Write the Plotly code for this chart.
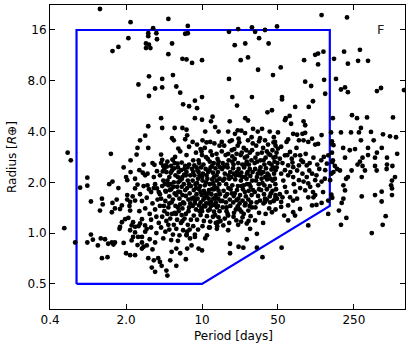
import math
import plotly.graph_objects as go

# ---- data (period in days, radius in Earth radii) ----
upper_points = [
    (1.15, 21.3), (2.2, 17.8), (4.9, 18.6), (3.55, 16.4), (3.2, 15.3), (3.8, 15.3), (3.2, 14.7),
    (3.85, 14.1), (2.1, 14.3), (7.4, 16.9), (7.0, 15.2), (7.4, 15.3), (5.3, 13.3), (4.9, 11.5),
    (3.05, 13.3), (3.25, 13.1), (3.05, 12.5), (3.35, 12.5), (1.5, 12.0), (1.7, 12.7), (6.6, 10.8),
    (7.2, 10.7), (8.1, 10.2), (10.0, 10.6), (3.25, 8.5), (4.3, 8.2), (5.4, 8.65), (2.6, 7.6),
    (3.7, 7.2), (4.3, 7.3), (5.8, 7.4), (3.25, 6.5), (6.3, 6.8), (6.7, 5.8), (7.6, 5.65), (8.6, 6.1),
    (10.0, 6.4), (9.0, 5.5), (4.2, 4.8), (8.6, 4.8), (10.0, 4.7), (3.2, 4.3), (4.3, 4.2), (5.6, 4.2),
    (6.6, 4.2),
    (126, 19.6), (216, 19.0), (28.8, 16.6), (49, 16.8), (21.5, 16.2), (17.7, 15.6), (30.8, 15.6),
    (38, 16.0), (33.5, 14.3), (41, 13.3), (20, 13.0), (25, 13.3), (117, 11.6), (131, 11.9),
    (110, 11.4), (164, 10.8), (203, 11.9), (284, 12.2), (273, 10.5), (337, 10.5), (220, 10.1),
    (22.7, 10.6), (26.5, 11.0), (53, 9.6), (87, 10.6), (117, 10.0), (32.8, 9.3), (45, 8.65),
    (17.7, 8.2), (89, 7.9), (101, 7.45), (133, 8.1), (136, 6.7), (171, 8.2), (190, 7.1), (220, 6.85),
    (207, 7.3), (407, 6.95), (444, 7.25), (722, 7.05), (54.5, 6.4), (54.5, 6.2), (28.8, 6.4),
    (19, 6.4), (105, 6.05), (96, 5.6), (72, 5.6), (44, 5.35), (40, 5.2), (21, 5.7), (240, 5.0),
    (267, 4.8), (330, 4.85), (572, 4.85), (160, 4.8), (59, 4.8), (64, 4.95), (25, 4.8), (26.5, 4.65),
    (18, 4.6), (23, 4.05), (29.5, 4.15), (35.7, 4.15), (32.6, 4.0), (42, 4.0), (50, 3.95),
]

right_points = [
    (154, 3.95), (157, 3.5), (190, 3.95), (235, 3.95), (278, 3.95), (359, 3.98), (463, 3.85),
    (537, 3.75), (610, 3.7), (625, 2.95), (451, 3.2), (504, 2.8), (407, 3.0), (337, 3.2), (229, 3.1),
    (199, 3.2), (207, 2.8), (157, 3.0), (160, 2.7), (284, 2.65), (337, 2.9), (504, 2.55),
    (270, 2.55), (300, 2.5), (316, 2.35), (391, 2.5), (405, 2.35), (500, 2.4), (565, 2.5),
    (597, 2.15), (560, 2.05), (550, 1.92), (560, 1.84), (295, 2.15), (238, 2.35), (220, 2.15),
    (212, 2.1), (200, 1.92), (207, 1.79), (295, 1.65), (391, 1.68), (450, 1.76), (560, 1.68),
    (167, 2.5), (175, 2.4), (162, 2.3), (186, 2.35), (290, 4.2), (380, 3.55), (290, 3.55),
    (256, 3.15), (391, 2.8), (300, 2.8), (200, 1.6), (193, 1.51), (182, 1.36), (213, 1.23),
    (190, 1.12), (450, 1.54), (365, 1.0), (460, 1.12), (490, 1.26),
]

mid_points = [
    (58, 4.67), (66, 4.45), (86, 4.6), (89, 4.36), (69, 3.88), (75, 3.83), (84, 3.88), (89, 3.93),
    (78, 3.55), (86, 3.55), (95, 3.47), (103, 3.63), (110, 3.35), (117, 3.38), (126, 3.81),
    (62, 3.59), (60, 3.47), (53.5, 3.25), (50, 3.17), (47.5, 2.83), (52, 2.76), (58, 2.89),
    (64.6, 3.03), (72, 2.89), (67, 2.76), (80, 2.89), (85, 2.64), (92, 2.52), (78, 2.52), (69, 2.46),
    (62, 2.52), (58, 2.36), (53.5, 2.25), (47.5, 2.36), (62, 2.2), (69, 2.15), (78, 2.06), (86, 2.02),
    (92, 2.15), (103, 2.25), (113, 2.2), (110, 2.06), (117, 1.92), (99, 1.88), (89, 1.79), (80, 1.85),
    (72, 1.76), (58, 1.88), (52, 1.7), (64.6, 1.63), (110, 1.68), (126, 2.02), (136, 2.36),
    (141, 2.58), (132, 2.83), (145, 2.89), (162, 3.32), (157, 3.38), (158, 2.64), (155, 2.25),
    (151, 2.06), (155, 1.69), (158, 1.62), (47.5, 1.63), (55, 1.63), (53.5, 1.53), (53.5, 1.43),
    (62, 1.46), (69, 1.56), (75, 1.6), (69, 1.33), (71.8, 1.27), (57, 1.27), (62, 1.19), (79.8, 1.39),
    (95, 1.63), (103, 1.46), (113, 1.47), (126, 1.51), (145, 1.56), (106, 1.63), (145, 1.30),
    (95, 1.11), (54, 0.82),
    (55, 2.6), (61, 2.9), (68, 2.62), (74, 3.2), (82, 2.7), (90, 2.95), (98, 2.6), (106, 2.8),
    (115, 2.55), (125, 2.7), (56, 2.05), (65, 2.3), (75, 2.35), (84, 2.25), (97, 2.35), (120, 2.4),
    (135, 2.1), (60, 1.75), (70, 1.95), (95, 1.97), (105, 1.75), (130, 1.75),
]

lower_points = [
    (0.95, 1.54), (1.2, 1.6), (1.22, 1.48), (1.15, 1.36), (1.5, 1.51), (1.58, 1.4), (1.76, 1.39),
    (1.83, 1.46), (1.48, 1.33), (2.05, 1.58), (2.18, 1.53), (2.42, 1.56), (2.18, 1.36), (1.83, 1.16),
    (1.96, 1.21), (2.1, 1.23), (1.76, 1.09), (1.74, 1.06), (2.32, 1.16), (2.42, 1.09), (2.25, 1.11),
    (2.69, 1.14), (2.8, 1.21), (2.99, 1.11), (3.1, 1.06), (2.42, 1.01), (2.18, 1.04), (2.32, 0.95),
    (2.58, 0.95), (2.25, 0.905), (2.8, 0.88), (3.1, 0.845), (0.95, 0.98), (0.99, 0.915), (1.17, 0.93),
    (1.28, 0.92), (1.37, 0.865), (1.48, 0.88), (1.53, 0.855), (1.58, 0.88), (1.9, 0.875), (1.1, 0.845),
    (0.88, 0.88), (1.2, 0.71), (1.35, 0.72), (2.0, 0.76), (2.18, 0.74), (2.42, 0.74), (2.8, 0.81),
    (2.9, 0.83), (3.2, 0.71), (3.6, 0.69), (3.95, 0.71), (4.1, 0.675), (3.45, 0.625), (3.7, 0.59),
    (4.7, 0.6), (4.8, 0.56), (4.25, 0.64), (5.1, 0.69), (5.8, 0.64), (5.25, 0.775), (5.8, 0.81),
    (6.3, 0.76), (7.1, 0.7), (7.3, 0.81), (8.0, 0.845), (9.3, 0.81), (10.0, 0.79), (7.75, 0.93),
    (8.6, 0.95), (10.7, 0.93), (11.1, 0.97), (7.2, 0.97), (18.1, 0.865), (18.1, 0.76), (21.7, 0.83),
    (24, 0.82), (25.8, 0.92), (32, 0.82), (36, 0.72), (17.4, 1.04), (20.7, 1.19), (22.9, 1.17),
    (26.8, 1.18), (30.8, 1.19), (27.7, 1.06), (32, 0.99), (44, 1.33), (46, 1.56), (38, 1.53),
    (48, 1.6), (14, 1.16), (15.7, 1.11), (13.7, 1.06), (11.6, 1.08), (17.4, 1.27),
    (0.54, 1.07), (0.68, 0.88), (0.755, 1.86), (0.88, 2.13), (0.88, 1.91), (1.64, 1.58),
    (2.42, 2.1), (0.58, 3.0), (0.62, 2.7), (1.45, 2.95), (2.2, 2.7),
]

left_mid_points = [
    (2.69, 3.55), (3.0, 3.78), (5.3, 3.65), (5.5, 3.55), (7.0, 3.6), (7.3, 3.8), (2.55, 3.2),
    (3.2, 3.2), (2.5, 2.92), (6.05, 3.17), (6.3, 3.05), (5.65, 2.83), (5.35, 2.73), (4.2, 2.92),
    (4.3, 2.72), (4.65, 2.52), (3.65, 2.54), (3.85, 2.33), (2.65, 2.36), (2.85, 2.28), (3.15, 2.25),
    (2.0, 2.15), (2.05, 2.06), (1.5, 2.02), (1.4, 1.95), (1.7, 1.85), (2.05, 1.68), (2.55, 1.94),
    (3.15, 1.92), (2.42, 1.84), (2.69, 1.7), (3.25, 1.82), (3.85, 1.84), (4.1, 1.7), (4.65, 1.76),
    (4.9, 1.92), (6.05, 2.0), (6.5, 2.09), (7.1, 2.2), (7.6, 3.25), (7.2, 2.9),
    (12.1, 4.6), (12.5, 4.9), (7.2, 4.1), (10.7, 4.0), (13.2, 4.25), (14.2, 4.0), (17.4, 4.0),
    (20.1, 3.88), (21.3, 4.07), (24.9, 3.92), (8.2, 3.47), (10.1, 3.55), (11.9, 3.47), (15.2, 3.47),
    (18.8, 3.55), (21.7, 3.63), (28.6, 3.7), (34.2, 3.65), (38, 3.55), (45.8, 3.7), (47, 3.47),
]

core_points = [
    # P 4-8, R 1.5-2.7
    (4.2, 2.6), (4.5, 2.4), (4.8, 2.65), (5.2, 2.5), (5.6, 2.6), (6.0, 2.45), (6.5, 2.62), (7.0, 2.5),
    (7.6, 2.55), (4.1, 2.2), (4.4, 2.05), (4.7, 2.3), (5.0, 2.15), (5.3, 2.35), (5.7, 2.2), (6.1, 2.3),
    (6.6, 2.15), (7.2, 2.3), (7.8, 2.2), (4.3, 1.9), (4.6, 1.78), (4.9, 1.95), (5.2, 1.82), (5.5, 2.0),
    (5.9, 1.88), (6.3, 1.75), (6.8, 1.95), (7.3, 1.85), (7.7, 1.72), (4.2, 1.6), (4.6, 1.55),
    (5.0, 1.65), (5.4, 1.58), (5.8, 1.68), (6.2, 1.6), (6.7, 1.52), (7.1, 1.66), (7.5, 1.58),
    (4.4, 2.5), (5.4, 2.72), (6.3, 2.05), (6.9, 2.4), (7.4, 2.05), (4.0, 1.75), (5.1, 1.95),
    (5.6, 1.72), (6.5, 1.88), (7.9, 1.9), (4.8, 2.05), (6.0, 2.15),
    (4.35, 2.32), (4.75, 2.48), (5.15, 2.28), (5.55, 2.42), (5.95, 2.58), (6.4, 2.36), (6.85, 2.22),
    (7.35, 2.45), (4.55, 1.95), (5.05, 1.8), (5.45, 1.88), (6.05, 1.76), (6.6, 1.68), (7.0, 1.8),
    (7.6, 1.95), (4.45, 1.45), (5.25, 1.52), (6.0, 1.42), (6.85, 1.5), (7.8, 1.5),
    # P 4-8, R 0.9-1.5
    (4.1, 1.45), (4.5, 1.35), (4.9, 1.42), (5.3, 1.3), (5.7, 1.45), (6.1, 1.35), (6.6, 1.4), (7.1, 1.3),
    (7.6, 1.42), (4.3, 1.25), (4.7, 1.18), (5.1, 1.22), (5.5, 1.12), (5.9, 1.2), (6.4, 1.15),
    (6.9, 1.22), (7.4, 1.12), (7.9, 1.2), (4.2, 1.08), (4.6, 1.02), (5.0, 1.05), (5.4, 0.98),
    (5.8, 1.06), (6.2, 0.97), (6.7, 1.04), (7.2, 0.98), (7.7, 1.05), (4.4, 0.93), (5.2, 0.91),
    (6.0, 0.9), (6.5, 1.28), (5.6, 1.32), (4.8, 1.3), (7.5, 1.35), (4.0, 1.15), (6.3, 1.48), (5.0, 1.5),
    (4.9, 1.12), (5.75, 1.3), (6.6, 1.18), (7.3, 1.02),
    # P 1.5-4
    (2.9, 2.55), (3.5, 2.6), (3.0, 2.2), (3.6, 2.15), (2.9, 1.9), (3.4, 1.75), (3.7, 1.95), (2.8, 1.55),
    (3.1, 1.62), (3.5, 1.5), (3.9, 1.58), (2.65, 1.35), (3.0, 1.4), (3.3, 1.3), (3.7, 1.38), (3.4, 1.2),
    (3.8, 1.25), (3.6, 1.85), (1.9, 2.45), (2.2, 2.3), (2.3, 1.65), (2.15, 1.45),
    (2.6, 1.1), (3.0, 1.02), (3.4, 1.08), (3.8, 1.0), (2.8, 0.95), (3.3, 0.92), (3.7, 0.88),
    (3.5, 0.8), (2.55, 0.85),
    # P 8-15, R 2.5-3.5
    (8.3, 2.7), (8.8, 3.0), (9.4, 2.6), (10.0, 2.9), (10.6, 3.2), (11.3, 2.75), (12.0, 3.05),
    (12.8, 2.6), (13.6, 2.95), (14.5, 3.3), (9.0, 3.35), (11.0, 3.45), (13.0, 3.4), (8.5, 2.52),
    (10.3, 2.55), (12.4, 2.5), (14.2, 2.65), (9.7, 3.15), (11.8, 2.65), (14.0, 2.55),
    (9.3, 2.7), (10.9, 2.82), (12.4, 2.9), (13.9, 2.75), (9.9, 3.05),
    # P 8-15, R 1.5-2.5
    (8.1, 2.4), (8.5, 2.2), (8.9, 2.45), (9.3, 2.3), (9.8, 2.45), (10.2, 2.25), (10.8, 2.4),
    (11.4, 2.3), (12.0, 2.45), (12.6, 2.28), (13.3, 2.42), (14.0, 2.3), (14.7, 2.45), (8.2, 2.05),
    (8.7, 1.95), (9.2, 2.1), (9.6, 1.9), (10.1, 2.05), (10.6, 1.92), (11.2, 2.1), (11.8, 1.95),
    (12.4, 2.08), (13.0, 1.9), (13.7, 2.05), (14.4, 1.95), (8.4, 1.8), (8.9, 1.7), (9.4, 1.82),
    (9.9, 1.68), (10.4, 1.78), (11.0, 1.65), (11.6, 1.8), (12.2, 1.7), (12.9, 1.82), (13.5, 1.68),
    (14.2, 1.78), (8.0, 1.6), (8.6, 1.55), (9.1, 1.6), (9.7, 1.52), (10.3, 1.58), (10.9, 1.5),
    (11.5, 1.6), (12.1, 1.53), (12.7, 1.6), (13.4, 1.52), (14.1, 1.6), (14.8, 1.55), (9.5, 2.2),
    (11.0, 2.2), (12.9, 2.15), (8.4, 1.62), (10.7, 1.72), (13.8, 1.85), (9.0, 1.98),
    (8.3, 2.3), (9.1, 2.35), (10.0, 2.15), (10.9, 2.0), (11.7, 2.35), (12.7, 1.98), (13.6, 2.2),
    (14.5, 2.1), (8.8, 1.85), (9.7, 1.75), (10.6, 1.62), (11.4, 1.72), (12.4, 1.82), (13.2, 1.62),
    (14.6, 1.7),
    # P 8-15, R 1.0-1.5
    (8.2, 1.45), (8.8, 1.38), (9.4, 1.46), (10.0, 1.35), (10.7, 1.44), (11.4, 1.36), (12.1, 1.45),
    (12.9, 1.34), (13.7, 1.42), (14.5, 1.35), (8.4, 1.27), (9.0, 1.2), (9.7, 1.28), (10.4, 1.18),
    (11.1, 1.26), (11.9, 1.17), (12.6, 1.25), (13.4, 1.15), (14.2, 1.24), (8.3, 1.1), (9.2, 1.05),
    (10.1, 1.1), (11.8, 1.08), (13.8, 1.1), (8.6, 0.98), (14.8, 1.18), (9.9, 1.4), (11.5, 1.5),
    (13.2, 1.28), (8.6, 1.5), (9.5, 1.35), (10.4, 1.45), (11.8, 1.38), (12.9, 1.47), (14.0, 1.45),
    # P 15-30, R 2.5-3.6
    (15.5, 2.6), (16.5, 2.9), (17.6, 2.7), (18.8, 3.1), (20.0, 2.75), (21.3, 3.3), (22.7, 2.9),
    (24.2, 3.2), (25.8, 2.65), (27.5, 3.0), (29.3, 3.4), (16.0, 3.3), (18.0, 3.5), (19.5, 2.55),
    (23.5, 2.55), (26.5, 3.55), (28.5, 2.7), (17.0, 2.55), (20.8, 2.95), (24.8, 2.8), (15.2, 3.05),
    (22.0, 3.45), (27.0, 2.55), (19.0, 2.85), (25.5, 3.1),
    (17.4, 2.95), (19.8, 3.15), (23.2, 3.0), (26.0, 2.85), (28.9, 3.1), (19.0, 2.65), (21.5, 2.6),
    (25.0, 2.55),
    # P 15-30, R 1.5-2.5
    (15.3, 2.4), (16.2, 2.25), (17.2, 2.45), (18.2, 2.3), (19.3, 2.42), (20.5, 2.2), (21.7, 2.4),
    (23.0, 2.28), (24.4, 2.45), (25.9, 2.25), (27.5, 2.4), (29.2, 2.3), (15.6, 2.05), (16.7, 1.95),
    (17.8, 2.1), (19.0, 1.92), (20.2, 2.08), (21.4, 1.9), (22.8, 2.05), (24.2, 1.92), (25.7, 2.1),
    (27.3, 1.95), (29.0, 2.05), (15.8, 1.78), (17.0, 1.7), (18.3, 1.82), (19.6, 1.66), (21.0, 1.8),
    (22.4, 1.68), (23.8, 1.82), (25.3, 1.65), (26.9, 1.78), (28.6, 1.68), (15.4, 1.55), (16.6, 1.52),
    (18.0, 1.58), (19.4, 1.52), (20.8, 1.57), (22.2, 1.5), (23.6, 1.56), (25.1, 1.5), (26.7, 1.58),
    (28.3, 1.52), (16.0, 2.48), (18.6, 2.15), (21.0, 2.3), (23.4, 2.15), (26.3, 2.3), (17.5, 1.85),
    (20.0, 1.72), (24.8, 1.75), (28.0, 1.88),
    (16.1, 2.1), (17.5, 2.2), (19.7, 2.25), (22.0, 2.2), (24.8, 2.15), (27.8, 2.18), (16.4, 1.65),
    (18.8, 1.72), (21.6, 1.6), (23.1, 1.9), (26.0, 1.95), (29.5, 1.8),
    # P 15-30, R 1.1-1.5
    (15.5, 1.42), (16.8, 1.35), (18.2, 1.45), (19.7, 1.32), (21.3, 1.44), (23.0, 1.34), (24.8, 1.46),
    (26.7, 1.36), (28.8, 1.42), (16.2, 1.22), (17.8, 1.15), (19.5, 1.25), (21.5, 1.12), (23.6, 1.24),
    (25.8, 1.14), (28.0, 1.26), (20.5, 1.38), (24.2, 1.3), (17.2, 1.3), (16.8, 1.42), (22.2, 1.38),
    (27.4, 1.45),
    # P 30-50
    (30.5, 2.6), (32.5, 2.95), (34.5, 2.7), (36.5, 3.2), (38.5, 2.8), (40.5, 3.35), (42.5, 2.9),
    (44.5, 3.1), (46.5, 2.65), (48.5, 3.0), (31.5, 3.3), (33.5, 3.5), (37.5, 2.55), (41.5, 2.6),
    (45.5, 3.45), (35.5, 3.0), (39.5, 3.05), (43.5, 2.55), (47.5, 3.3), (31.0, 2.8),
    (30.8, 2.4), (32.6, 2.25), (34.5, 2.45), (36.6, 2.3), (38.8, 2.42), (41.1, 2.2), (43.5, 2.38),
    (46.0, 2.25), (48.7, 2.45), (31.4, 2.05), (33.3, 1.95), (35.3, 2.1), (37.5, 1.92), (39.7, 2.08),
    (42.1, 1.9), (44.6, 2.05), (47.3, 1.95), (30.6, 1.75), (32.8, 1.66), (35.0, 1.8), (37.2, 1.7),
    (39.5, 1.82), (42.0, 1.65), (44.6, 1.78), (47.4, 1.68), (31.8, 1.52), (34.2, 1.56), (36.8, 1.5),
    (39.4, 1.58), (42.4, 1.52), (45.6, 1.55), (49.0, 1.6), (33.8, 2.35), (40.0, 2.25), (45.0, 2.45),
    (36.0, 1.98), (33.5, 1.32), (38.5, 1.3), (41.5, 1.4), (36.5, 1.15), (47.5, 1.38), (31.0, 1.42),
    (32.0, 2.15), (35.0, 2.25), (38.2, 2.15), (42.8, 2.1), (46.8, 2.1), (33.5, 1.82), (38.0, 1.6),
    (43.0, 1.72), (48.0, 1.82), (32.2, 2.65), (36.8, 2.7), (41.0, 2.95), (45.5, 2.8), (49.5, 2.6),
]

# selection box (period, radius) vertices
box_period = [0.7, 0.7, 150, 150, 10, 0.7]
box_radius = [0.5, 16, 16, 1.45, 0.5, 0.5]

x_ticks = [0.4, 2, 10, 50, 250]
x_labels = ["0.4", "2.0", "10", "50", "250"]
y_ticks = [0.5, 1, 2, 4, 8, 16]
y_labels = ["0.5", "1.0", "2.0", "4.0", "8.0", "16"]

all_points = upper_points + right_points + mid_points + lower_points + left_mid_points + core_points
period = [p for p, r in all_points]
radius = [r for p, r in all_points]

fig = go.Figure()
fig.add_trace(go.Scatter(x=box_period, y=box_radius, mode="lines",
                         line=dict(color="#0000ff", width=2.2), hoverinfo="skip"))
fig.add_trace(go.Scatter(x=period, y=radius, mode="markers",
                         marker=dict(color="black", size=4.8, line=dict(width=0))))

axis_common = dict(type="log", showgrid=False, zeroline=False, showline=True, linecolor="black",
                   linewidth=1, mirror="ticks", ticks="inside", ticklen=5, tickwidth=1,
                   tickcolor="black", tickfont=dict(size=12, color="black"))
fig.update_xaxes(range=[math.log10(0.399), math.log10(738)], tickvals=x_ticks, ticktext=x_labels,
                 **axis_common)
fig.update_yaxes(range=[math.log10(0.355), math.log10(22.5)], tickvals=y_ticks, ticktext=y_labels,
                 **axis_common)

fig.update_layout(
    width=411, height=348,
    margin=dict(l=50, r=6, t=5, b=39),
    plot_bgcolor="white", paper_bgcolor="white",
    showlegend=False,
    font=dict(family="DejaVu Sans", size=12, color="black"),
    annotations=[
        dict(text="Period [days]", xref="paper", yref="paper", x=0.517, y=0, yshift=-27,
             xanchor="center", yanchor="middle", showarrow=False, font=dict(size=12)),
        dict(text="Radius [<i>R</i>⊕]", xref="paper", yref="paper", x=0, y=0.5, xshift=-38,
             textangle=-90, xanchor="center", yanchor="middle", showarrow=False,
             font=dict(size=12)),
        dict(text="F", xref="paper", yref="paper", x=0.9296, y=0.918, xanchor="center",
             yanchor="middle", showarrow=False, font=dict(size=13, color="#222222")),
    ],
)

# page body has a default 8px margin; drop it so the figure fills the window
fig.write_html("out.html", config={"displayModeBar": False},
               post_script="document.body.style.margin='0';")
